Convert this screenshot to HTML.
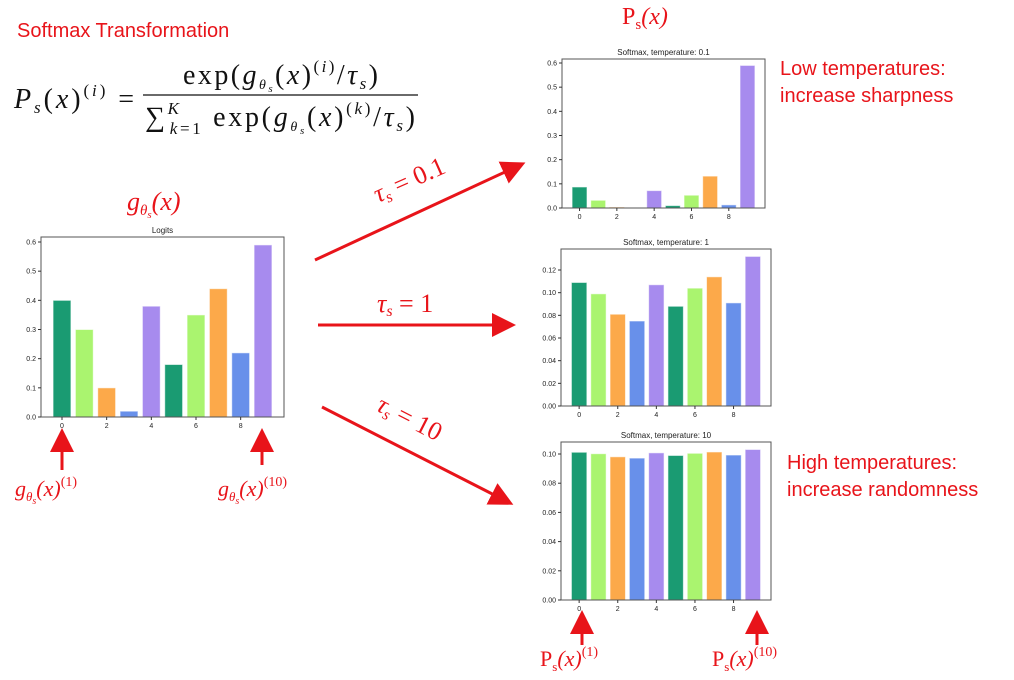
<!DOCTYPE html>
<html><head><meta charset="utf-8"><style>
body{margin:0;background:#fff;width:1014px;height:680px;overflow:hidden;font-family:"Liberation Sans",sans-serif}
svg{position:absolute;left:0;top:0}
.r{fill:#e8141a;font-family:"Liberation Sans",sans-serif}
.m{font-family:"Liberation Serif",serif;font-style:italic}
</style></head><body>
<svg id="s" width="1014" height="680" viewBox="0 0 1014 680">
<defs><marker id="ah" markerWidth="8" markerHeight="8" refX="6" refY="4" orient="auto"><path d="M0,0 L8,4 L0,8 z" fill="#e8141a"/></marker></defs>
<text class="r" x="17" y="37" font-size="20">Softmax Transformation</text>
<g font-family="Liberation Serif,serif" font-size="28" fill="#111">
<text x="14" y="108" textLength="120" lengthAdjust="spacing"><tspan font-style="italic">P</tspan><tspan font-size="17" font-style="italic" dy="5">s</tspan><tspan dy="-5">(</tspan><tspan font-style="italic">x</tspan>)<tspan font-size="17" dy="-12">(<tspan font-style="italic">i</tspan>)</tspan><tspan dy="12"> =</tspan></text>
<text x="183" y="84" textLength="195" lengthAdjust="spacing">exp(<tspan font-style="italic">g</tspan><tspan font-size="14" font-style="italic" dy="5">θ</tspan><tspan font-size="11" font-style="italic" dy="3">s</tspan><tspan dy="-8">(</tspan><tspan font-style="italic">x</tspan>)<tspan font-size="17" dy="-12">(<tspan font-style="italic">i</tspan>)</tspan><tspan dy="12">/</tspan><tspan font-style="italic">τ</tspan><tspan font-size="17" font-style="italic" dy="5">s</tspan><tspan dy="-5">)</tspan></text>
<line x1="143" y1="95" x2="418" y2="95" stroke="#111" stroke-width="1.3"/>
<text x="145" y="126" textLength="270" lengthAdjust="spacing">∑<tspan font-size="17" dy="-12" font-style="italic">K</tspan><tspan font-size="17" dx="-12" dy="20"><tspan font-style="italic">k</tspan>=1</tspan><tspan dy="-8"> exp(</tspan><tspan font-style="italic">g</tspan><tspan font-size="14" font-style="italic" dy="5">θ</tspan><tspan font-size="11" font-style="italic" dy="3">s</tspan><tspan dy="-8">(</tspan><tspan font-style="italic">x</tspan>)<tspan font-size="17" dy="-12">(<tspan font-style="italic">k</tspan>)</tspan><tspan dy="12">/</tspan><tspan font-style="italic">τ</tspan><tspan font-size="17" font-style="italic" dy="5">s</tspan><tspan dy="-5">)</tspan></text>
</g>
<text class="r m" x="127" y="210" font-size="26">g<tspan font-size="15" dy="5">θ</tspan><tspan font-size="11" dy="3">s</tspan><tspan dy="-8">(x)</tspan></text>
<text class="r m" x="622" y="24" font-size="24"><tspan font-style="normal">P</tspan><tspan font-size="15" dy="5" font-style="normal">s</tspan><tspan dy="-5">(x)</tspan></text>
<text class="r" x="780" y="75" font-size="20">Low temperatures:</text>
<text class="r" x="780" y="102" font-size="20">increase sharpness</text>
<text class="r" x="787" y="469" font-size="20">High temperatures:</text>
<text class="r" x="787" y="496" font-size="20">increase randomness</text>
<g stroke="#e8141a" stroke-width="3" fill="none" marker-end="url(#ah)">
<line x1="315" y1="260" x2="520" y2="165"/>
<line x1="318" y1="325" x2="510" y2="325"/>
<line x1="322" y1="407" x2="508" y2="502"/>
<line x1="62" y1="470" x2="62" y2="434"/>
<line x1="262" y1="465" x2="262" y2="434"/>
<line x1="582" y1="645" x2="582" y2="616"/>
<line x1="757" y1="645" x2="757" y2="616"/>
</g>
<text class="r m" font-size="26" transform="translate(378,203) rotate(-24)">τ<tspan font-size="16" dy="4">s</tspan><tspan dy="-4" font-style="normal"> = 0.1</tspan></text>
<text class="r m" font-size="26" x="377" y="312">τ<tspan font-size="16" dy="4">s</tspan><tspan dy="-4" font-style="normal"> = 1</tspan></text>
<text class="r m" font-size="26" transform="translate(375,410) rotate(27)">τ<tspan font-size="16" dy="4">s</tspan><tspan dy="-4" font-style="normal"> = 10</tspan></text>
<text class="r m" font-size="22" x="15" y="496">g<tspan font-size="13" dy="5">θ</tspan><tspan font-size="10" dy="3">s</tspan><tspan dy="-8">(x)</tspan><tspan font-size="14" dy="-10" font-style="normal">(1)</tspan></text>
<text class="r m" font-size="22" x="218" y="496">g<tspan font-size="13" dy="5">θ</tspan><tspan font-size="10" dy="3">s</tspan><tspan dy="-8">(x)</tspan><tspan font-size="14" dy="-10" font-style="normal">(10)</tspan></text>
<text class="r m" font-size="22" x="540" y="666"><tspan font-style="normal">P</tspan><tspan font-size="13" dy="5" font-style="normal">s</tspan><tspan dy="-5">(x)</tspan><tspan font-size="14" dy="-10" font-style="normal">(1)</tspan></text>
<text class="r m" font-size="22" x="712" y="666"><tspan font-style="normal">P</tspan><tspan font-size="13" dy="5" font-style="normal">s</tspan><tspan dy="-5">(x)</tspan><tspan font-size="14" dy="-10" font-style="normal">(10)</tspan></text>
</svg>
<script>
const categories=[0,1,2,3,4,5,6,7,8,9];
const xTickLabels=["0","2","4","6","8"];
const logitsValues=[0.40,0.30,0.10,0.02,0.38,0.18,0.35,0.44,0.22,0.59];
const softmax01Values=[0.087,0.032,0.004,0.002,0.072,0.010,0.053,0.132,0.013,0.590];
const softmax1Values=[0.109,0.099,0.081,0.075,0.107,0.088,0.104,0.114,0.091,0.132];
const softmax10Values=[0.1012,0.1002,0.0981,0.0972,0.1008,0.0990,0.1005,0.1014,0.0993,0.1031];
const ticksA=[0,0.1,0.2,0.3,0.4,0.5,0.6];
const ticksB=[0,0.02,0.04,0.06,0.08,0.10,0.12];
const ticksC=[0,0.02,0.04,0.06,0.08,0.10];
const colors=["#1a9b72","#aaf46f","#fca94a","#6890ea","#a78bee"];
const NS="http://www.w3.org/2000/svg";
const svg=document.getElementById('s');
function mk(t,a,p){const e=document.createElementNS(NS,t);for(const k in a)e.setAttribute(k,a[k]);(p||svg).appendChild(e);return e;}
function chart(name,title,vals,ticks,dec,box,refVal,refY){
  const g=mk('g',{});
  
  
  const [L,T,R,B]=box;
  const xmin=-0.94,xmax=9.94;
  const xs=v=>L+(v-xmin)/(xmax-xmin)*(R-L);
  const ys=v=>B-(v/refVal)*(B-refY);
  categories.forEach((c,i)=>{
    const r=mk('rect',{x:xs(c-0.4),y:ys(vals[i]),width:xs(0.8)-xs(0),height:B-ys(vals[i]),fill:colors[i%5],stroke:'#fff','stroke-opacity':0.6,'stroke-width':1},g);
    
    
  });
  mk('rect',{x:L,y:T,width:R-L,height:B-T,fill:'none',stroke:'#555','stroke-width':1},g);
  ticks.forEach(t=>{
    const y=ys(t);
    mk('line',{x1:L-3,y1:y,x2:L,y2:y,stroke:'#333'},g);
    const tx=mk('text',{x:L-5,y:y+2.5,'font-size':7,'text-anchor':'end',fill:'#222'},g);
    tx.textContent=t.toFixed(dec);
    
    
  });
  xTickLabels.forEach(l=>{
    const x=xs(+l);
    mk('line',{x1:x,y1:B,x2:x,y2:B+3,stroke:'#333'},g);
    const tx=mk('text',{x:x,y:B+11,'font-size':7,'text-anchor':'middle',fill:'#222'},g);
    tx.textContent=l;
    
    
  });
  const tt=mk('text',{x:(L+R)/2,y:T-4,'font-size':8,'text-anchor':'middle',fill:'#222'},g);
  tt.textContent=title;
  
  
}
chart('logits-chart','Logits',logitsValues,ticksA,1,[41,237,284,417],0.6,242);
chart('softmax-t01-chart','Softmax, temperature: 0.1',softmax01Values,ticksA,1,[562,59,765,208],0.6,63);
chart('softmax-t1-chart','Softmax, temperature: 1',softmax1Values,ticksB,2,[561,249,771,406],0.12,270);
chart('softmax-t10-chart','Softmax, temperature: 10',softmax10Values,ticksC,2,[561,442,771,600],0.10,454);
</script>
</body></html>
